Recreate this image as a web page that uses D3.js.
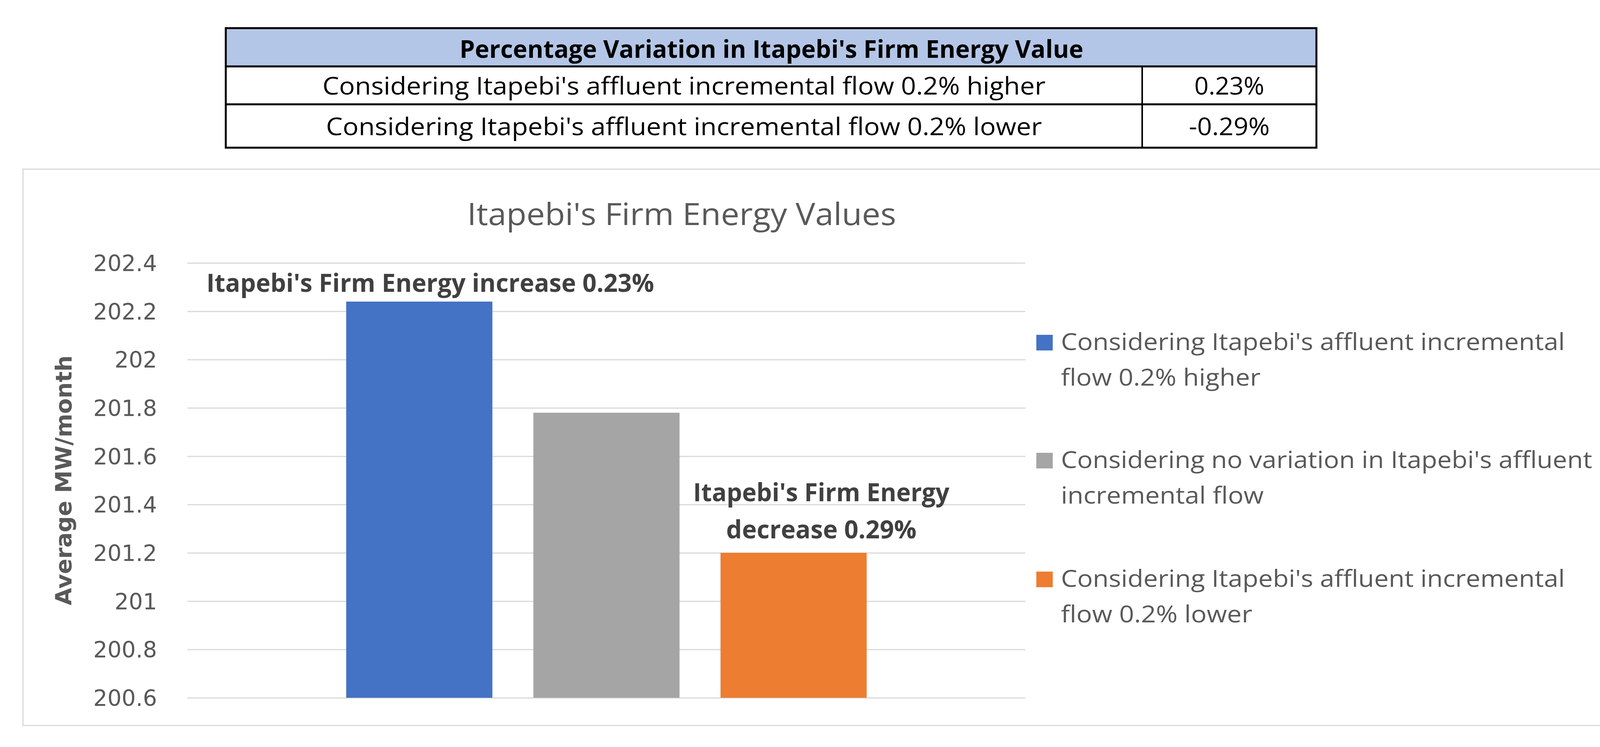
<!DOCTYPE html>
<html>
<head>
<meta charset="utf-8">
<script src="https://cdn.jsdelivr.net/npm/d3@7"></script>
<style>
  html, body { margin: 0; padding: 0; background: #ffffff; }
  svg { display: block; }
</style>
</head>
<body>
<script>
// ---------------- DATA ----------------
const seriesNames = [
  "Considering Itapebi's affluent incremental flow 0.2% higher",
  "Considering no variation in Itapebi's affluent incremental flow",
  "Considering Itapebi's affluent incremental flow 0.2% lower"
];
const seriesValues = [202.24, 201.78, 201.2];
const seriesColors = ["#4472C4", "#A5A5A5", "#ED7D31"];
const yTicks = [200.6, 200.8, 201, 201.2, 201.4, 201.6, 201.8, 202, 202.2, 202.4];
const chartTitle = "Itapebi's Firm Energy Values";
const yAxisTitle = "Average MW/month";
const legendLines = [
  ["Considering Itapebi's affluent incremental", "flow 0.2% higher"],
  ["Considering no variation in Itapebi's affluent", "incremental flow"],
  ["Considering Itapebi's affluent incremental", "flow 0.2% lower"]
];
const annotationLines = [
  ["Itapebi's Firm Energy increase 0.23%"],
  null,
  ["Itapebi's Firm Energy", "decrease 0.29%"]
];
const tableTitle = "Percentage Variation in Itapebi's Firm Energy Value";
const tableRowLabels = [
  "Considering Itapebi's affluent incremental flow 0.2% higher",
  "Considering Itapebi's affluent incremental flow 0.2% lower"
];
const tableRowValues = ["0.23%", "-0.29%"];

// ---------------- LAYOUT ----------------
const W = 4196, H = 1912;
const svg = d3.select("body").append("svg").attr("width", W).attr("height", H);
const FONT = "'Open Sans', 'Noto Sans', sans-serif";

// ---- Table ----
const T = { left: 578, right: 3370, top: 72, headBottom: 170, row1Bottom: 267, bottom: 378, divider: 2924 };
const tg = svg.append("g");
tg.append("rect").attr("x", T.left).attr("y", T.top).attr("width", T.right - T.left).attr("height", T.headBottom - T.top)
  .attr("fill", "#B4C6E7");
tg.append("rect").attr("x", T.left).attr("y", T.top).attr("width", T.right - T.left).attr("height", T.bottom - T.top)
  .attr("fill", "none").attr("stroke", "#000").attr("stroke-width", 5);
[T.headBottom, T.row1Bottom].forEach(y => {
  tg.append("line").attr("x1", T.left).attr("x2", T.right).attr("y1", y).attr("y2", y)
    .attr("stroke", "#000").attr("stroke-width", 5);
});
tg.append("line").attr("x1", T.divider).attr("x2", T.divider).attr("y1", T.headBottom).attr("y2", T.bottom)
  .attr("stroke", "#000").attr("stroke-width", 4);

function fitText(sel, len) {
  return sel.attr("textLength", len).attr("lengthAdjust", "spacingAndGlyphs");
}
fitText(tg.append("text").attr("x", 1975).attr("y", 148).attr("text-anchor", "middle")
  .attr("font-family", FONT).attr("font-weight", 700).attr("font-size", 62).attr("fill", "#000")
  .text(tableTitle), 1597);
const rowBase = [242, 346];
const rowLen = [1851, 1833];
const valLen = [179, 207];
tableRowLabels.forEach((t, i) => {
  fitText(tg.append("text").attr("x", (T.left + T.divider) / 2).attr("y", rowBase[i]).attr("text-anchor", "middle")
    .attr("font-family", FONT).attr("font-size", 62).attr("fill", "#000").text(t), rowLen[i]);
  fitText(tg.append("text").attr("x", (T.divider + T.right) / 2).attr("y", rowBase[i]).attr("text-anchor", "middle")
    .attr("font-family", FONT).attr("font-size", 62).attr("fill", "#000").text(tableRowValues[i]), valLen[i]);
});

// ---- Chart frame ----
svg.append("rect").attr("x", 59).attr("y", 433).attr("width", 4145 - 59).attr("height", 1857 - 433)
  .attr("fill", "#fff").attr("stroke", "#D9D9D9").attr("stroke-width", 3);

fitText(svg.append("text").attr("x", 1745).attr("y", 576).attr("text-anchor", "middle")
  .attr("font-family", FONT).attr("font-size", 78).attr("fill", "#595959").text(chartTitle), 1098);

// ---- Scales ----
const plot = { left: 480, right: 2625, top: 673, bottom: 1786 };
const y = d3.scaleLinear().domain([200.6, 202.4]).range([plot.bottom, plot.top]);
const x = d3.scaleBand().domain(seriesNames).range([plot.left, plot.right]).paddingInner(0.219).paddingOuter(0.848);

// gridlines via axis
const grid = svg.append("g").attr("transform", `translate(${plot.left},0)`)
  .call(d3.axisLeft(y).tickValues(yTicks).tickSize(-(plot.right - plot.left)).tickFormat(""));
grid.select(".domain").remove();
grid.selectAll(".tick line").attr("stroke", "#D9D9D9").attr("stroke-width", 3);

// tick labels via axis
const yAxis = svg.append("g").attr("transform", `translate(402,0)`)
  .call(d3.axisLeft(y).tickValues(yTicks).tickSize(0).tickPadding(0).tickFormat(d => String(+d.toFixed(1))));
yAxis.select(".domain").remove();
yAxis.selectAll(".tick text").attr("font-family", "'DejaVu Sans', sans-serif").attr("font-size", 57)
  .attr("fill", "#595959").attr("dy", "0.36em");

// y title
fitText(svg.append("text").attr("transform", `translate(183,${(plot.top + plot.bottom) / 2}) rotate(-90)`)
  .attr("text-anchor", "middle").attr("font-family", "'DejaVu Sans', sans-serif").attr("font-weight", 700)
  .attr("font-size", 57).attr("fill", "#595959").text(yAxisTitle), 640);

// bars
svg.append("g").selectAll("rect").data(seriesNames).join("rect")
  .attr("x", d => x(d)).attr("width", x.bandwidth())
  .attr("y", (d, i) => y(seriesValues[i]))
  .attr("height", (d, i) => y(200.6) - y(seriesValues[i]))
  .attr("fill", (d, i) => seriesColors[i]);

// annotations
const annOffsetX = [28, 0, 71];
const annLens = [[1146], null, [656, 487]];
annotationLines.forEach((lines, i) => {
  if (!lines) return;
  const cx = x(seriesNames[i]) + x.bandwidth() / 2 + annOffsetX[i];
  const top = y(seriesValues[i]);
  const n = lines.length;
  lines.forEach((t, j) => {
    const base = top - 25 - (n > 1 ? 12 : 0) - (n - 1 - j) * 95;
    fitText(svg.append("text").attr("x", cx).attr("y", base).attr("text-anchor", "middle")
      .attr("font-family", FONT).attr("font-weight", 700).attr("font-size", 64).attr("fill", "#404040")
      .text(t), annLens[i][j]);
  });
});

// legend
const legTops = [857, 1159, 1463];
const legLens = [[1290, 511], [1360, 519], [1290, 490]];
const leg = svg.append("g");
legendLines.forEach((lines, i) => {
  leg.append("rect").attr("x", 2653).attr("y", legTops[i]).attr("width", 42).attr("height", 40)
    .attr("fill", seriesColors[i]);
  lines.forEach((t, j) => {
    fitText(leg.append("text").attr("x", 2716).attr("y", legTops[i] + 39 + j * 91)
      .attr("font-family", FONT).attr("font-size", 60).attr("fill", "#595959").text(t), legLens[i][j]);
  });
});
</script>
</body>
</html>
